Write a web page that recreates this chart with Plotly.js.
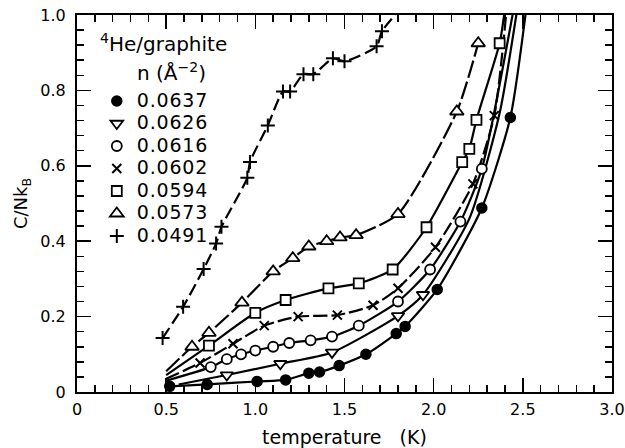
<!DOCTYPE html>
<html>
<head>
<meta charset="utf-8">
<script src="https://cdn.plot.ly/plotly-3.0.1.min.js"></script>
<style>
html,body{margin:0;padding:0;background:#fff;}
#chart{width:625px;height:448px;}
.legendtext{font-size:19px !important;letter-spacing:0.8px;}
</style>
</head>
<body>
<div id="chart"></div>
<script>
// ---- data ----
const seriesNames = ["0.0637","0.0626","0.0616","0.0602","0.0594","0.0573","0.0491"];

const filledX = [0.52,0.73,1.01,1.17,1.30,1.36,1.47,1.62,1.79,1.84,2.02,2.27,2.43];
const filledY = [0.015,0.02,0.028,0.032,0.05,0.053,0.07,0.10,0.155,0.174,0.272,0.488,0.728];

const downX = [0.84,1.14,1.43,1.80,1.94];
const downY = [0.045,0.075,0.105,0.202,0.258];

const circX = [0.75,0.84,0.92,1.00,1.10,1.19,1.31,1.43,1.58,1.80,1.98,2.15,2.27];
const circY = [0.066,0.087,0.10,0.11,0.12,0.13,0.137,0.147,0.176,0.24,0.325,0.452,0.592];

const crossX = [0.69,0.875,1.05,1.24,1.46,1.66,1.80,2.01,2.22,2.34];
const crossY = [0.077,0.128,0.176,0.20,0.204,0.23,0.275,0.384,0.552,0.733];

const sqX = [0.74,1.00,1.17,1.41,1.58,1.77,1.96,2.16,2.20,2.24,2.37];
const sqY = [0.123,0.21,0.244,0.275,0.288,0.325,0.437,0.61,0.645,0.722,0.925];

const triX = [0.645,0.74,0.925,1.10,1.21,1.30,1.40,1.475,1.565,1.80,2.13,2.25];
const triY = [0.12,0.157,0.237,0.32,0.355,0.386,0.40,0.41,0.416,0.472,0.744,0.925];

const plusX = [0.48,0.595,0.71,0.78,0.81,0.955,0.97,1.07,1.155,1.195,1.27,1.325,1.435,1.50,1.68,1.71];
const plusY = [0.143,0.226,0.326,0.394,0.438,0.568,0.61,0.707,0.797,0.797,0.843,0.843,0.885,0.877,0.917,0.957];

// where each drawn guide curve begins, bends and ends beyond its points
const curveStartX = [null, 0.57, 0.50, 0.50, 0.50, 0.50, null];
const curveStartY = [null, 0.02, 0.03, 0.035, 0.045, 0.055, null];
const curveMidX   = [[], [2.20, 2.37], [], [], [], [], []];
const curveMidY   = [[], [0.46, 0.74], [], [], [], [], []];
const curveEndX   = [2.52, 2.47, 2.45, 2.41, 2.395, null, 1.82];
const curveEndY   = [1.02, 1.02, 1.02, 1.02, 1.0, null, 1.02];

const xTickVals = [0,0.5,1.0,1.5,2.0,2.5,3.0];
const xTickText = ["0","0.5","1.0","1.5","2.0","2.5","3.0"];
const yTickVals = [0,0.2,0.4,0.6,0.8,1.0];
const yTickText = ["0","0.2","0.4","0.6","0.8","1.0"];

// ---- build traces ----
const FONT = "DejaVu Sans, Verdana, sans-serif";
const pts = [
  [filledX, filledY, "circle",            "#000", 10, 1.5, "solid"],
  [downX,   downY,   "triangle-down",     "#fff", 11, 1.8, "solid"],
  [circX,   circY,   "circle",            "#fff", 10, 1.8, "solid"],
  [crossX,  crossY,  "x-thin-open",       "#000", 9,  2.0, "14px,4px"],
  [sqX,     sqY,     "square",            "#fff", 10, 1.8, "solid"],
  [triX,    triY,    "triangle-up",       "#fff", 12, 1.8, "18px,4px"],
  [plusX,   plusY,   "cross-thin-open",   "#000", 10, 2.0, "12px,5px"]
];

const traces = [];
pts.forEach((p, i) => {
  let lx = p[0].slice(), ly = p[1].slice();
  if (curveStartX[i] !== null) { lx.unshift(curveStartX[i]); ly.unshift(curveStartY[i]); }
  curveMidX[i].forEach((mx, j) => {
    let k = lx.findIndex(v => v > mx);
    if (k < 0) k = lx.length;
    lx.splice(k, 0, mx); ly.splice(k, 0, curveMidY[i][j]);
  });
  if (curveEndX[i] !== null) { lx.push(curveEndX[i]); ly.push(curveEndY[i]); }
  traces.push({
    x: lx, y: ly, type: "scatter", mode: "lines", showlegend: false, hoverinfo: "skip",
    line: {color: "#000", width: 2.2, shape: "spline", smoothing: 0.6, dash: p[6]}
  });
});
pts.forEach((p, i) => {
  traces.push({
    x: p[0], y: p[1], type: "scatter", mode: "markers", name: seriesNames[i],
    cliponaxis: false,
    marker: {symbol: p[2], size: p[4], color: p[3], line: {color: "#000", width: p[5]}}
  });
});

const axisCommon = {
  showgrid: false, zeroline: false, showline: true, linecolor: "#000", linewidth: 2,
  mirror: "ticks", ticks: "inside", tickcolor: "#000", tickwidth: 1.5, ticklen: 14,
  tickfont: {family: FONT, size: 16, color: "#000"}, tickmode: "array"
};

const layout = {
  width: 625, height: 448,
  margin: {l: 77, r: 13, t: 15, b: 56},
  paper_bgcolor: "#fff", plot_bgcolor: "#fff",
  font: {family: FONT, color: "#000"},
  xaxis: Object.assign({}, axisCommon, {
    range: [0, 3.0], tickvals: xTickVals, ticktext: xTickText, ticklabelstandoff: 2,
    minor: {dtick: 0.1, tick0: 0, ticks: "inside", ticklen: 7, tickcolor: "#000", tickwidth: 1.5},
    title: {text: "temperature&nbsp;&nbsp;&nbsp;(K)", font: {family: FONT, size: 19, color: "#000"}, standoff: 12}
  }),
  yaxis: Object.assign({}, axisCommon, {
    range: [0, 1.0], tickvals: yTickVals, ticktext: yTickText, ticklabelstandoff: 6,
    minor: {dtick: 0.04, tick0: 0, ticks: "inside", ticklen: 7, tickcolor: "#000", tickwidth: 1.5},
    title: {text: "C/Nk<sub>B</sub>", font: {family: FONT, size: 18, color: "#000"}, standoff: 8}
  }),
  showlegend: true,
  legend: {
    x: 0.037, y: 0.815, xanchor: "left", yanchor: "top",
    bgcolor: "rgba(0,0,0,0)", borderwidth: 0,
    font: {family: FONT, size: 15, color: "#000"},
    itemwidth: 30
  },
  annotations: [
    {xref: "paper", yref: "paper", x: 0.04, y: 0.926, xanchor: "left", yanchor: "middle", showarrow: false,
     text: "<sup>4</sup>He/graphite", font: {family: FONT, size: 20, color: "#000"}},
    {xref: "paper", yref: "paper", x: 0.108, y: 0.85, xanchor: "left", yanchor: "middle", showarrow: false,
     text: "n (Å<sup>−2</sup>)", font: {family: FONT, size: 20, color: "#000"}}
  ]
};

Plotly.newPlot("chart", traces, layout, {staticPlot: true, displayModeBar: false});
</script>
</body>
</html>
